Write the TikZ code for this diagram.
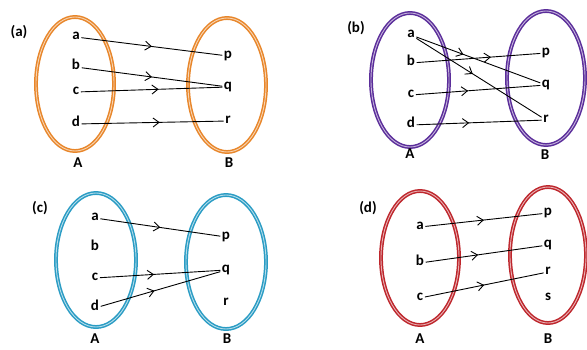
\documentclass[tikz,border=0pt]{standalone}
\usepackage{fontspec}
\setmainfont{Carlito}
\usepackage{tikz}
\usetikzlibrary{arrows.meta,decorations.markings}
\definecolor{setorange}{HTML}{E8862A}
\definecolor{setpurple}{HTML}{5B2D9A}
\definecolor{setcyan}{HTML}{2A9CC4}
\definecolor{setred}{HTML}{BE262C}
\tikzset{
  ring/.style    ={draw=#1, line width=1.5pt, double=#1!35!white, double distance=0.9pt},
  elem/.style    ={font=\fontsize{15}{17}\selectfont\bfseries, inner sep=1.5pt,
                   text height=1.4ex, text depth=0.3ex},
  setname/.style ={font=\fontsize{15}{17}\selectfont\bfseries, inner sep=1pt},
  tag/.style     ={font=\fontsize{15}{17}\selectfont\bfseries, inner sep=1pt},
  mapto/.style   ={line width=0.9pt, postaction={decorate},
                   decoration={markings, mark=at position #1 with
                   {\arrow{Straight Barb[length=6pt,width=9pt,line width=0.9pt]}}}},
  mapto/.default =0.5,
}
\begin{document}
\begin{tikzpicture}[x=1pt, y=-1pt]
  \useasboundingbox (0,0) rectangle (587,349);
  % (a)
  \node[tag] (ta) at (19,32) {(a)};
  \draw[ring=setorange] (75,84) ellipse [x radius=39pt, y radius=67pt];
  \draw[ring=setorange] (227,85) ellipse [x radius=39pt, y radius=67pt];
  \node[elem] (aa) at (76,37) {a};  \node[elem] (ap) at (228,56) {p};
  \node[elem] (ab) at (76,67) {b};  \node[elem] (aq) at (228,87) {q};
  \node[elem] (ac) at (76,92) {c};  \node[elem] (ar) at (228,121) {r};
  \node[elem] (ad) at (76,124) {d};
  \node[setname] (aA) at (78,163) {A};  \node[setname] (aB) at (229,163) {B};
  \draw[mapto] (aa) -- (ap);
  \draw[mapto] (ab) -- (aq);
  \draw[mapto=0.55] (ac) -- (aq);
  \draw[mapto=0.55] (ad) -- (ar);
  % (b)
  \node[tag] (tb) at (356,28) {(b)};
  \draw[ring=setpurple] (410,80) ellipse [x radius=39pt, y radius=67pt];
  \draw[ring=setpurple] (546,78) ellipse [x radius=39pt, y radius=67pt];
  \node[elem] (ba) at (411,35) {a};  \node[elem] (bp) at (546,53) {p};
  \node[elem] (bb) at (411,63) {b};  \node[elem] (bq) at (546,85) {q};
  \node[elem] (bc) at (411,95) {c};  \node[elem] (br) at (546,120) {r};
  \node[elem] (bd) at (411,125) {d};
  \node[setname] (bA) at (410,154) {A};  \node[setname] (bB) at (545,155) {B};
  \draw[mapto=0.38] (ba) -- (bq);
  \draw[mapto=0.45] (ba) -- (br);
  \draw[mapto=0.6] (bb) -- (bp);
  \draw[mapto=0.42] (bc) -- (bq);
  \draw[mapto=0.42] (bd) -- (br);
  % (c)
  \node[tag] (tc) at (40,208) {(c)};
  \draw[ring=setcyan] (96,260) ellipse [x radius=40pt, y radius=67pt];
  \draw[ring=setcyan] (226,262) ellipse [x radius=40pt, y radius=67pt];
  \node[elem] (ca) at (95,218) {a};  \node[elem] (cp) at (226,237) {p};
  \node[elem] (cb) at (95,248) {b};  \node[elem] (cq) at (226,270) {q};
  \node[elem] (cc) at (95,278) {c};  \node[elem] (cr) at (226,303) {r};
  \node[elem] (cd) at (95,308) {d};
  \node[setname] (cA) at (95,339) {A};  \node[setname] (cB) at (227,339) {B};
  \draw[mapto] (ca) -- (cp);
  \draw[mapto=0.45] (cc) -- (cq);
  \draw[mapto=0.45] (cd) -- (cq);
  % (d)
  \node[tag] (td) at (368,208) {(d)};
  \draw[ring=setred] (420,258) ellipse [x radius=39pt, y radius=67pt];
  \draw[ring=setred] (548,255) ellipse [x radius=38pt, y radius=68pt];
  \node[elem] (da) at (420,227) {a};  \node[elem] (dp) at (548,213) {p};
  \node[elem] (db) at (420,263) {b};  \node[elem] (dq) at (548,245) {q};
  \node[elem] (dc) at (420,298) {c};  \node[elem] (dr) at (548,272) {r};
  \node[elem] (ds) at (548,298) {s};
  \node[setname] (dA) at (420,339) {A};  \node[setname] (dB) at (548,339) {B};
  \draw[mapto=0.5] (da) -- (dp);
  \draw[mapto=0.45] (db) -- (dq);
  \draw[mapto=0.5] (dc) -- (dr);
\end{tikzpicture}
\end{document}
